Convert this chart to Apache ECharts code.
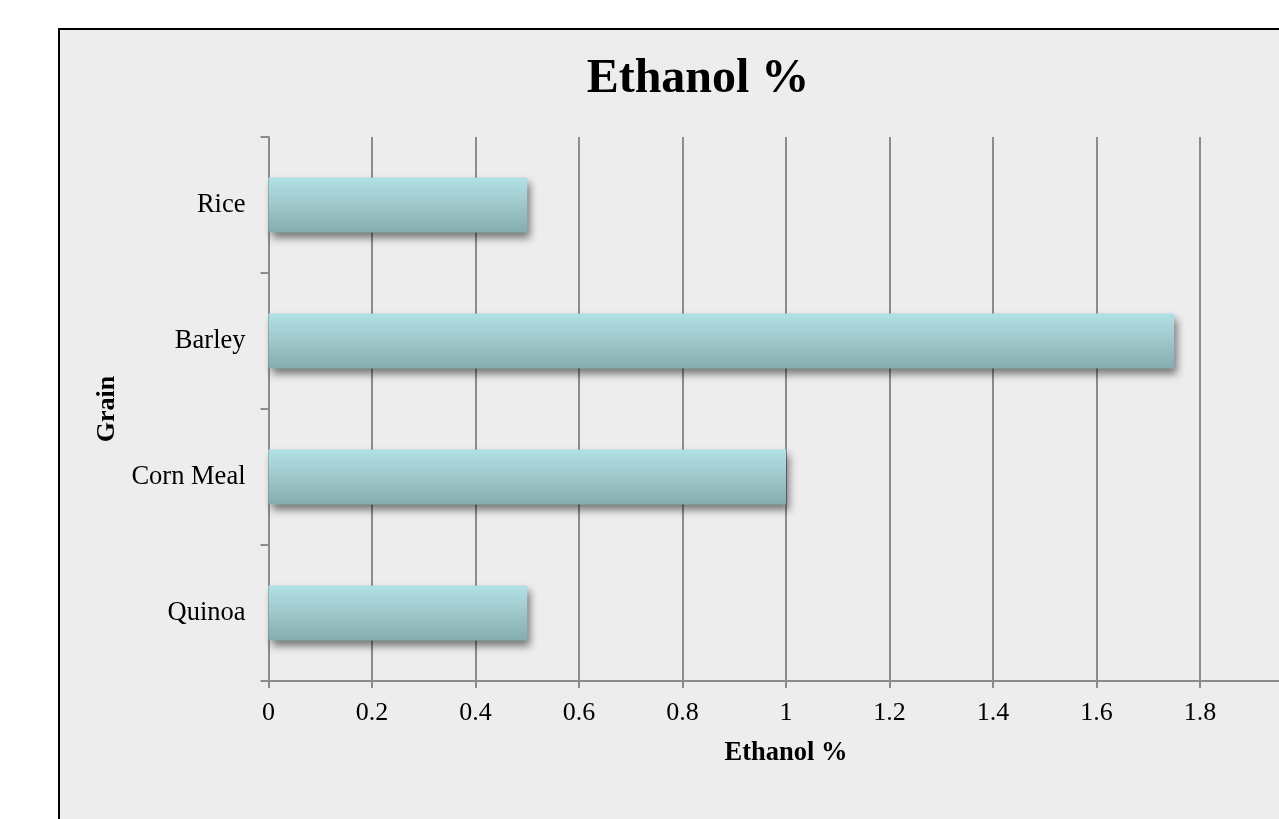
<!DOCTYPE html>
<html><head><meta charset="utf-8">
<script src="https://cdn.jsdelivr.net/npm/echarts@6/dist/echarts.min.js"></script>
<style>
html,body{margin:0;padding:0;background:#fff;overflow:hidden;width:1279px;height:819px;}
#box{position:absolute;left:58px;top:28px;width:1400px;height:900px;border:2px solid #000;background:#ededed;}
</style></head>
<body>
<div id="box"></div>
<script>
const titleText = 'Ethanol %';
const categories = ['Rice', 'Barley', 'Corn Meal', 'Quinoa'];
const ethanolValues = [0.5, 1.75, 1.0, 0.5];
const xAxisName = 'Ethanol %';
const yAxisName = 'Grain';
const font = '"Liberation Serif", "Times New Roman", serif';

const chart = echarts.init(document.getElementById('box'), null, {renderer: 'canvas'});
chart.setOption({
  backgroundColor: '#ededed',
  animation: false,
  graphic: [{
    type: 'text', x: 638, y: 50,
    style: {text: titleText, font: 'bold 48px ' + font, fill: '#000', textAlign: 'center', textVerticalAlign: 'middle'}
  }],
  grid: {left: 208.5, top: 107, width: 1035, height: 544, containLabel: false},
  xAxis: {
    type: 'value', min: 0, max: 2, interval: 0.2,
    name: xAxisName, nameLocation: 'middle', nameGap: 59,
    nameTextStyle: {fontFamily: font, fontWeight: 'bold', fontSize: 26.5, color: '#000'},
    axisLine: {show: true, lineStyle: {color: '#8c8c8c', width: 2}},
    axisTick: {show: true, length: 7, lineStyle: {color: '#8c8c8c', width: 2}},
    splitLine: {show: true, lineStyle: {color: '#8c8c8c', width: 2}},
    axisLabel: {fontFamily: font, fontSize: 26, color: '#000', margin: 19}
  },
  yAxis: {
    type: 'category', data: categories, inverse: true,
    name: yAxisName, nameLocation: 'middle', nameGap: 147,
    nameTextStyle: {fontFamily: font, fontWeight: 'bold', fontSize: 26, color: '#000'},
    axisLine: {show: true, lineStyle: {color: '#8c8c8c', width: 2}},
    axisTick: {show: true, length: 8, lineStyle: {color: '#8c8c8c', width: 2}},
    axisLabel: {fontFamily: font, fontSize: 26.5, color: '#000', margin: 23}
  },
  series: [{
    type: 'bar', data: ethanolValues, barWidth: 55,
    itemStyle: {
      color: new echarts.graphic.LinearGradient(0, 0, 0, 1, [
        {offset: 0, color: '#b1e1e5'},
        {offset: 0.4, color: '#a3ccd0'},
        {offset: 1, color: '#85acaf'}
      ]),
      shadowColor: 'rgba(0,0,0,0.5)', shadowBlur: 8, shadowOffsetX: 3, shadowOffsetY: 5
    }
  }]
});
</script>
</body></html>
